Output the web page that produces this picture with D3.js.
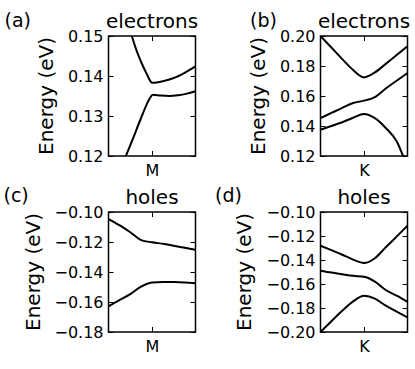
<!DOCTYPE html>
<html>
<head>
<meta charset="utf-8">
<script src="https://cdn.jsdelivr.net/npm/d3@7"></script>
<style>
  body { margin: 0; background: #fff; }
  svg { display: block; font-family: "DejaVu Sans", sans-serif; }
  .tick line { stroke: #000; stroke-width: 1; }
  .tick text { fill: #000; font-size: 16px; }
</style>
</head>
<body>
<svg id="chart" width="415" height="369"></svg>
<script>

// momentum along the cut, M / K point at 0
var kGrid = [-1, -0.75, -0.5, -0.25, 0, 0.25, 0.5, 0.75, 1];

// (a) electrons near M
var aUpperK = [-0.47, -0.35, -0.23, -0.12, -0.03, 0, 0.25, 0.5, 0.75, 1];
var aUpperE = [0.1502, 0.1462, 0.1430, 0.1405, 0.1386, 0.1383, 0.1387, 0.1395, 0.1408, 0.1424];
var aLowerK = [-0.62, -0.45, -0.27, -0.1, -0.03, 0.02, 0.2, 0.4, 0.6, 0.8, 1];
var aLowerE = [0.1195, 0.1240, 0.1290, 0.1334, 0.1348, 0.1353, 0.1351, 0.1350, 0.1352, 0.1356, 0.1362];

// (b) electrons near K
var bUpperE  = [0.2000, 0.1923, 0.1846, 0.1773, 0.1724, 0.1757, 0.1814, 0.1873, 0.1932];
var bMiddleE = [0.1453, 0.1487, 0.1521, 0.1553, 0.1569, 0.1592, 0.1650, 0.1702, 0.1753];
var bLowerE  = [0.1375, 0.1400, 0.1425, 0.1455, 0.1480, 0.1452, 0.1387, 0.1298, 0.1120];

// (c) holes near M
var cUpperE = [-0.1047, -0.1088, -0.1135, -0.1187, -0.1202, -0.1212, -0.1225, -0.1238, -0.1252];
var cLowerE = [-0.1629, -0.1587, -0.1547, -0.1497, -0.1470, -0.1466, -0.1467, -0.1470, -0.1475];

// (d) holes near K
var dUpperE  = [-0.1281, -0.1318, -0.1356, -0.1397, -0.1425, -0.1385, -0.1294, -0.1205, -0.1114];
var dMiddleE = [-0.1489, -0.1505, -0.1519, -0.1532, -0.1540, -0.1580, -0.1650, -0.1697, -0.1748];
var dLowerE  = [-0.2000, -0.1910, -0.1823, -0.1745, -0.1698, -0.1722, -0.1781, -0.1830, -0.1878];

var aTicks = [0.12, 0.13, 0.14, 0.15];
var bTicks = [0.12, 0.14, 0.16, 0.18, 0.20];
var cTicks = [-0.18, -0.16, -0.14, -0.12, -0.10];
var dTicks = [-0.20, -0.18, -0.16, -0.14, -0.12, -0.10];

function zip(ks, es) {
    return ks.map(function (k, i) { return {k: k, e: es[i]}; });
}

var panels = [
    {id: 'a', title: 'electrons', point: 'M', left: 108.5, top: 36, ticks: aTicks, fmt: '.2f',
     bands: [zip(aUpperK, aUpperE), zip(aLowerK, aLowerE)],
     tag: [4.5, 27], labelX: 52.5},
    {id: 'b', title: 'electrons', point: 'K', left: 320.5, top: 36, ticks: bTicks, fmt: '.2f',
     bands: [zip(kGrid, bUpperE), zip(kGrid, bMiddleE), zip(kGrid, bLowerE)],
     tag: [250, 27], labelX: 264.5},
    {id: 'c', title: 'holes', point: 'M', left: 108.5, top: 212, ticks: cTicks, fmt: '.2f',
     bands: [zip(kGrid, cUpperE), zip(kGrid, cLowerE)],
     tag: [3.5, 202], labelX: 39.5},
    {id: 'd', title: 'holes', point: 'K', left: 320.5, top: 212, ticks: dTicks, fmt: '.2f',
     bands: [zip(kGrid, dUpperE), zip(kGrid, dMiddleE), zip(kGrid, dLowerE)],
     tag: [215, 202], labelX: 251}
];

var w = 87, h = 120, tickLen = 5;
var svg = d3.select('#chart');

panels.forEach(function (p) {
    var x = d3.scaleLinear().domain([-1, 1]).range([0, w]);
    var y = d3.scaleLinear().domain(d3.extent(p.ticks)).range([h, 0]);

    var g = svg.append('g').attr('transform', 'translate(' + p.left + ',' + p.top + ')');

    g.append('clipPath').attr('id', 'clip-' + p.id)
        .append('rect').attr('width', w).attr('height', h);

    var line = d3.line()
        .x(function (d) { return x(d.k); })
        .y(function (d) { return y(d.e); })
        .curve(d3.curveMonotoneX);

    g.append('g').attr('clip-path', 'url(#clip-' + p.id + ')')
        .selectAll('path').data(p.bands).enter().append('path')
        .attr('d', line)
        .attr('fill', 'none')
        .attr('stroke', '#000')
        .attr('stroke-width', 2);

    // axes, ticks pointing inwards on all four sides
    var left = g.append('g').call(d3.axisLeft(y).tickValues(p.ticks)
        .tickFormat(d3.format(p.fmt)).tickSizeInner(-tickLen).tickSizeOuter(0).tickPadding(5));
    var right = g.append('g').attr('transform', 'translate(' + w + ',0)')
        .call(d3.axisRight(y).tickValues(p.ticks).tickFormat('').tickSizeInner(-tickLen).tickSizeOuter(0));
    var topAx = g.append('g')
        .call(d3.axisTop(x).tickValues([0]).tickFormat('').tickSizeInner(-tickLen).tickSizeOuter(0));
    var bottom = g.append('g').attr('transform', 'translate(0,' + h + ')')
        .call(d3.axisBottom(x).tickValues([0]).tickFormat(function () { return p.point; })
            .tickSizeInner(-tickLen).tickSizeOuter(0).tickPadding(9));
    [left, right, topAx, bottom].forEach(function (a) {
        a.select('.domain').remove();
        a.attr('font-family', null).attr('font-size', null);
    });

    g.append('rect')
        .attr('width', w).attr('height', h)
        .attr('fill', 'none').attr('stroke', '#000').attr('stroke-width', 1.5);

    g.append('text')
        .attr('x', w / 2).attr('y', -8)
        .attr('text-anchor', 'middle')
        .attr('font-size', 20)
        .text(p.title);

    svg.append('text')
        .attr('transform', 'translate(' + p.labelX + ',' + (p.top + h / 2) + ') rotate(-90)')
        .attr('text-anchor', 'middle')
        .attr('font-size', 20)
        .text('Energy (eV)');

    svg.append('text')
        .attr('x', p.tag[0]).attr('y', p.tag[1])
        .attr('font-size', 19)
        .text('(' + p.id + ')');
});

</script>
</body>
</html>
